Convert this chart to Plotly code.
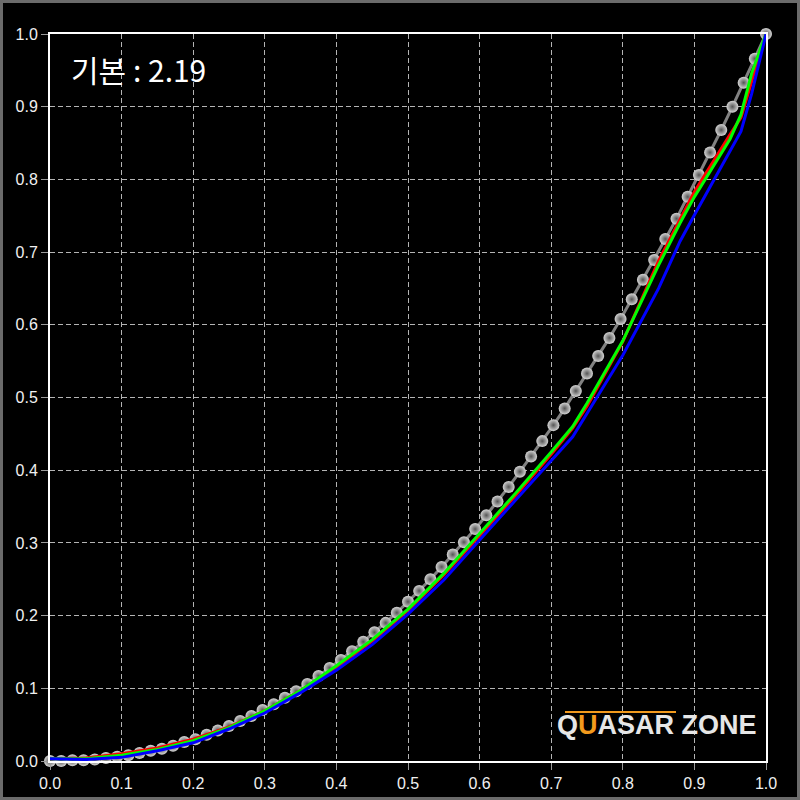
import plotly.graph_objects as go

# Reference gamma curve (gray, with markers)
gray_x = [0.0000, 0.0156, 0.0313, 0.0469, 0.0625, 0.0781, 0.0938, 0.1094, 0.1250, 0.1406,
          0.1563, 0.1719, 0.1875, 0.2031, 0.2188, 0.2344, 0.2500, 0.2656, 0.2813, 0.2969,
          0.3125, 0.3281, 0.3438, 0.3594, 0.3750, 0.3906, 0.4063, 0.4219, 0.4375, 0.4531,
          0.4688, 0.4844, 0.5000, 0.5156, 0.5313, 0.5469, 0.5625, 0.5781, 0.5938, 0.6094,
          0.6250, 0.6406, 0.6563, 0.6719, 0.6875, 0.7031, 0.7188, 0.7344, 0.7500, 0.7656,
          0.7813, 0.7969, 0.8125, 0.8281, 0.8438, 0.8594, 0.8750, 0.8906, 0.9063, 0.9219,
          0.9375, 0.9531, 0.9688, 0.9844, 1.0000]
gray_y = [0.000, 0.000, 0.001, 0.001, 0.002, 0.004, 0.006, 0.008, 0.011, 0.014,
          0.017, 0.021, 0.026, 0.030, 0.036, 0.042, 0.048, 0.055, 0.062, 0.070,
          0.078, 0.087, 0.096, 0.106, 0.117, 0.128, 0.139, 0.151, 0.164, 0.177,
          0.190, 0.204, 0.219, 0.234, 0.250, 0.267, 0.284, 0.301, 0.319, 0.338,
          0.357, 0.377, 0.398, 0.419, 0.440, 0.462, 0.485, 0.509, 0.533, 0.557,
          0.582, 0.608, 0.635, 0.662, 0.689, 0.718, 0.746, 0.776, 0.806, 0.837,
          0.868, 0.900, 0.933, 0.966, 1.000]

# Measured channel curves
rgb_x = [0.0, 0.05, 0.1, 0.15, 0.2, 0.25, 0.3, 0.35, 0.4, 0.45, 0.5, 0.55, 0.6,
         0.65, 0.7, 0.73, 0.75, 0.8, 0.85, 0.88, 0.9, 0.95, 0.965, 0.98, 1.0]
red_y = [0.003, 0.004, 0.010, 0.018, 0.030, 0.047, 0.069, 0.097, 0.129, 0.165, 0.207, 0.256, 0.310,
         0.365, 0.422, 0.458, 0.488, 0.577, 0.688, 0.745, 0.783, 0.862, 0.885, 0.935, 1.0]
green_y = [0.003, 0.003, 0.008, 0.016, 0.028, 0.046, 0.069, 0.097, 0.131, 0.167, 0.209, 0.258, 0.313,
           0.368, 0.425, 0.460, 0.492, 0.578, 0.682, 0.740, 0.776, 0.856, 0.889, 0.946, 1.0]
blue_y = [0.003, 0.002, 0.005, 0.014, 0.025, 0.044, 0.066, 0.094, 0.125, 0.160, 0.202, 0.249, 0.304,
          0.359, 0.414, 0.446, 0.478, 0.558, 0.650, 0.715, 0.751, 0.841, 0.866, 0.918, 1.0]

tick_vals = [0.0, 0.1, 0.2, 0.3, 0.4, 0.5, 0.6, 0.7, 0.8, 0.9, 1.0]
tick_text = ["0.0", "0.1", "0.2", "0.3", "0.4", "0.5", "0.6", "0.7", "0.8", "0.9", "1.0"]
title_text = "기본 : 2.19"

W, H = 800, 800
ML, MR, MT, MB = 50, 34, 34, 39
PW, PH = W - ML - MR, H - MT - MB

fig = go.Figure()
fig.add_trace(go.Scatter(
    x=gray_x, y=gray_y, mode="lines+markers", cliponaxis=False,
    line=dict(color="#828282", width=3),
    marker=dict(size=12, color="#d4d4d4",
                gradient=dict(type="radial", color="#555555"),
                line=dict(width=0)),
    showlegend=False, hoverinfo="skip"))
for ys, col in [(red_y, "#ff0000"), (green_y, "#00ff00"), (blue_y, "#0000ff")]:
    fig.add_trace(go.Scatter(x=rgb_x, y=ys, mode="lines", cliponaxis=False,
                             line=dict(color=col, width=3),
                             showlegend=False, hoverinfo="skip"))

axis_common = dict(
    range=[0, 1], tickvals=tick_vals, ticktext=tick_text, automargin=False,
    showgrid=True, gridcolor="#b4b4b4", gridwidth=1, griddash="5px,3px",
    zeroline=False, showline=True, linecolor="#ffffff", linewidth=2, mirror=True,
    ticks="outside", ticklen=7, tickcolor="#9a9a9a", tickwidth=1,
    tickfont=dict(family="Liberation Sans, Arial", size=16, color="#f0f0f0"),
    fixedrange=True,
)
fig.update_xaxes(**axis_common)
fig.update_yaxes(**axis_common)

fig.add_annotation(x=0, y=1, xref="paper", yref="paper", xanchor="left", yanchor="top",
                   xshift=19, yshift=-11, showarrow=False, text=title_text,
                   font=dict(family="Noto Sans CJK KR", size=30, color="#ffffff"))
fig.add_annotation(x=1, y=0, xref="paper", yref="paper", xanchor="right", yanchor="bottom",
                   xshift=-7, yshift=19, showarrow=False,
                   text="<b>Q<span style='color:#f29a1d'>U</span>ASAR ZONE</b>",
                   font=dict(family="Liberation Sans, Arial", size=27, color="#e6e6e6"))
fig.add_shape(type="line", xref="paper", yref="paper",
              x0=(565 - ML) / PW, x1=(676 - ML) / PW,
              y0=(H - MB - 712) / PH, y1=(H - MB - 712) / PH,
              line=dict(color="#f29a1d", width=2))
# outer gray frame of the picture
fig.add_shape(type="rect", xref="paper", yref="paper", layer="above",
              x0=-ML / PW, x1=1 + MR / PW, y0=-MB / PH, y1=1 + MT / PH,
              line=dict(color="#6b6b6b", width=6), fillcolor="rgba(0,0,0,0)")

fig.update_layout(
    width=W, height=H, autosize=False,
    margin=dict(l=ML, r=MR, t=MT, b=MB),
    paper_bgcolor="#000000", plot_bgcolor="#000000",
)

fig.write_html("out.html", config={"displayModeBar": False},
               post_script="document.body.style.margin='0';document.body.style.overflow='hidden';")
